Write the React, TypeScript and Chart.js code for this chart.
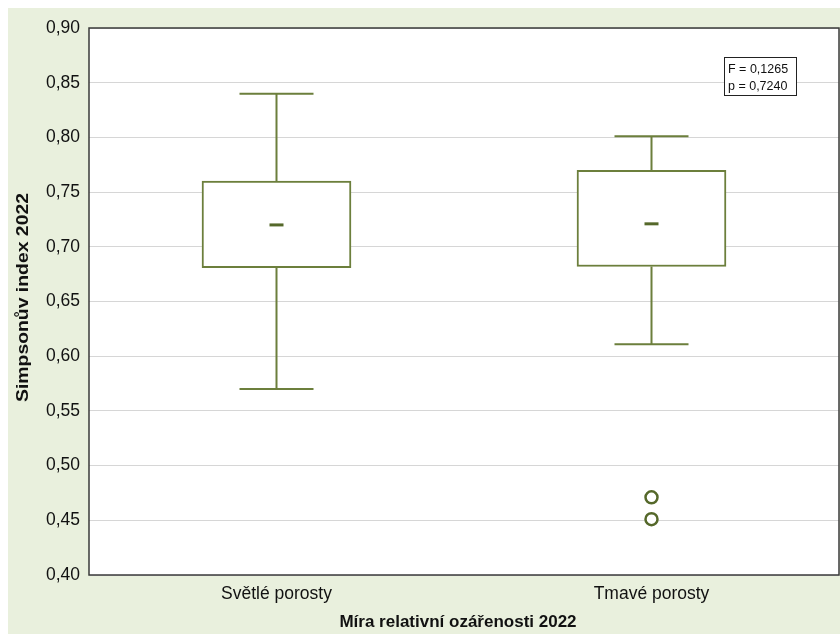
import React, { useEffect, useRef } from "react";
import { Chart, registerables } from "chart.js";

Chart.register(...registerables);

const categories = ["Světlé porosty", "Tmavé porosty"];
const whiskerLow = [0.57, 0.611];
const q1 = [0.681, 0.682];
const median = [0.72, 0.721];
const q3 = [0.76, 0.77];
const whiskerHigh = [0.84, 0.801];
const outlierCat = ["Tmavé porosty", "Tmavé porosty"];
const outlierVal = [0.471, 0.451];
const statLines = ["F = 0,1265", "p = 0,7240"];
const yTitle = "Simpsonův index 2022";
const xTitle = "Míra relativní ozářenosti 2022";

const BG = "#e9f0dd";
const BOX = "#6c7f3c";
const DARK = "#55682a";
const FONT = "'Liberation Sans', Arial, sans-serif";

export default function App() {
  const ref = useRef<HTMLCanvasElement>(null);
  useEffect(() => {
    document.body.style.overflow = "hidden";
    const ctx = ref.current!.getContext("2d")!;
    const bgPlugin = {
      id: "bg",
      beforeDraw(chart: any) {
        const { ctx, chartArea: a, width, height } = chart;
        ctx.save();
        ctx.fillStyle = BG;
        ctx.fillRect(0, 0, width, height);
        ctx.fillStyle = "#ffffff";
        ctx.fillRect(a.left, a.top, a.right - a.left, a.bottom - a.top);
        ctx.restore();
      },
      beforeDatasetsDraw(chart: any) {
        const { ctx, scales } = chart;
        const xs = scales.x, ys = scales.y;
        ctx.save();
        ctx.strokeStyle = BOX;
        ctx.lineWidth = 2;
        categories.forEach((c, i) => {
          const x = xs.getPixelForValue(i);
          const capHalf = 37;
          const yl = ys.getPixelForValue(whiskerLow[i]);
          const yq1 = ys.getPixelForValue(q1[i]);
          const yq3 = ys.getPixelForValue(q3[i]);
          const yh = ys.getPixelForValue(whiskerHigh[i]);
          ctx.beginPath();
          ctx.moveTo(x, yq1); ctx.lineTo(x, yl);
          ctx.moveTo(x - capHalf, yl); ctx.lineTo(x + capHalf, yl);
          ctx.moveTo(x, yq3); ctx.lineTo(x, yh);
          ctx.moveTo(x - capHalf, yh); ctx.lineTo(x + capHalf, yh);
          ctx.stroke();
        });
        ctx.restore();
      },
      afterDraw(chart: any) {
        const { ctx, chartArea: a } = chart;
        ctx.save();
        ctx.strokeStyle = "#3a3a3a";
        ctx.lineWidth = 1.5;
        ctx.strokeRect(a.left, a.top, a.right - a.left, a.bottom - a.top);
        // y title (slightly stretched along its length as in the reference)
        ctx.save();
        ctx.translate(15, (a.top + a.bottom) / 2 - 4);
        ctx.rotate(-Math.PI / 2);
        ctx.scale(1.14, 1);
        ctx.fillStyle = "#111";
        ctx.font = `bold 17px ${FONT}`;
        ctx.textAlign = "center";
        ctx.textBaseline = "middle";
        ctx.fillText(yTitle, 0, 0);
        ctx.restore();
        // x title
        ctx.save();
        ctx.fillStyle = "#111";
        ctx.font = `bold 17px ${FONT}`;
        ctx.textAlign = "center";
        ctx.textBaseline = "middle";
        ctx.fillText(xTitle, 450, a.bottom + 47);
        ctx.restore();
        // stat box
        const bx = 716, by = a.top + 29, bw = 72, bh = 38;
        ctx.fillStyle = "#ffffff";
        ctx.fillRect(bx, by, bw, bh);
        ctx.strokeStyle = "#222";
        ctx.lineWidth = 1;
        ctx.strokeRect(bx + 0.5, by + 0.5, bw, bh);
        ctx.fillStyle = "#111";
        ctx.font = `12.5px ${FONT}`;
        ctx.textBaseline = "alphabetic";
        ctx.fillText(statLines[0], bx + 4, by + 16);
        ctx.fillText(statLines[1], bx + 4, by + 33);
        ctx.restore();
      },
    };
    const chart = new Chart(ctx, {
      type: "bar",
      data: {
        labels: categories,
        datasets: [
          {
            type: "bar",
            data: categories.map((_, i) => [q1[i], q3[i]]) as any,
            backgroundColor: "#ffffff",
            borderColor: BOX,
            borderWidth: 2,
            borderSkipped: false,
            barThickness: 149,
            order: 2,
          } as any,
          {
            type: "scatter",
            data: categories.map((c, i) => ({ x: c, y: median[i] })) as any,
            pointStyle: "line",
            radius: 7,
            borderColor: DARK,
            borderWidth: 3,
            order: 1,
          } as any,
          {
            type: "scatter",
            data: outlierCat.map((c, i) => ({ x: c, y: outlierVal[i] })) as any,
            pointStyle: "circle",
            radius: 6,
            backgroundColor: "#ffffff",
            borderColor: DARK,
            borderWidth: 2.5,
            order: 0,
          } as any,
        ],
      },
      options: {
        animation: false,
        responsive: true,
        maintainAspectRatio: false,
        devicePixelRatio: 1,
        layout: { autoPadding: false, padding: { top: 20, right: 1, left: 0, bottom: 0 } },
        plugins: { legend: { display: false }, tooltip: { enabled: false } },
        scales: {
          x: {
            type: "category",
            offset: true,
            grid: { display: false, drawTicks: false },
            border: { display: false },
            ticks: {
              color: "#111",
              padding: 9,
              font: { family: FONT, size: 17.5 },
            },
            title: { display: false },
            afterFit(s: any) { s.height = 59; s.paddingLeft = 0; s.paddingRight = 0; },
          },
          y: {
            min: 0.4,
            max: 0.9,
            grid: { color: "#d6d6d6", lineWidth: 1, drawTicks: false },
            border: { display: false },
            ticks: {
              stepSize: 0.05,
              color: "#111",
              padding: 9,
              font: { family: FONT, size: 17.5 },
              callback: (v: any) => Number(v).toFixed(2).replace(".", ","),
            },
            title: { display: false },
            afterFit(s: any) { s.width = 81; s.paddingTop = 0; s.paddingBottom = 0; },
          },
        },
      } as any,
      plugins: [bgPlugin],
    });
    return () => chart.destroy();
  }, []);
  return (
    <div style={{ position: "fixed", left: 8, top: 8, width: 832, height: 626 }}>
      <canvas ref={ref} />
    </div>
  );
}
